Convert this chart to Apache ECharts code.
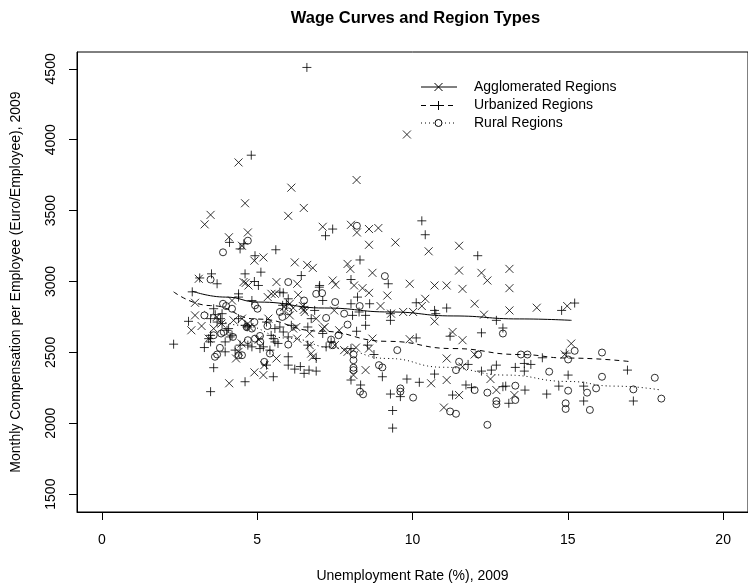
<!DOCTYPE html>
<html lang="en">
<head>
    <meta charset="UTF-8">
    <title>Wage Curves and Region Types</title>
    <script src="https://cdn.jsdelivr.net/npm/echarts@6/dist/echarts.min.js"></script>
</head>
<style>
    *{
        margin: 0;
        padding: 0;
    }
    html , body{
        width: 748px;
        height: 588px;
        background: #fff;
    }
    .container{
        width: 748px;
        height: 588px;
    }
</style>
<body>
<div class="container"></div>
<script>
    // unemployment rate (%), monthly compensation (euro)
    const agglomerated = [
        [4.4,3840],[6.1,3662],[8.2,3716],[4.61,3552],[6.5,3519],[3.5,3470],[3.31,3403],[6.0,3463],
        [7.11,3386],[8.02,3400],[8.21,3346],[8.6,3370],[8.9,3377],[8.6,3259],[9.45,3276],[4.09,3312],
        [4.7,3346],[4.51,3252],[5.2,3170],[9.82,4037],[10.52,3213],[11.5,3252],
        [4.91,3147],[6.21,3135],[6.61,3117],[6.79,3096],[7.91,3124],[8.0,3089],[3.12,3019],[4.56,2996],
        [4.72,2972],[5.62,2996],[6.29,2984],[7.43,3007],[7.52,2977],[8.12,2972],[8.71,3061],[8.39,2953],
        [8.6,2920],[9.19,2901],[3.0,2850],[4.19,2866],[5.34,2890],[5.57,2913],[6.32,2906],[5.87,2820],
        [6.16,2813],[6.53,2785],[7.48,2796],[8.97,2827],[3.0,2761],[2.88,2656],[3.21,2686],[3.6,2668],
        [3.7,2750],[4.24,2726],[4.51,2738],[4.75,2679],[5.36,2738],[6.05,2761],[6.26,2679],[6.9,2738],
        [7.17,2679],[6.69,2633],[7.64,2656],[7.5,2551],[7.91,2504],[8.18,2534],[8.1,2340],[8.49,2375],
        [8.71,2597],[8.6,2527],[3.44,2597],[4.1,2282],[4.91,2359],[5.2,2340],[4.32,2457],[4.5,2563],
        [5.05,2590],[5.23,2410],[5.62,2457],[6.29,2597],[6.74,2492],[6.69,2551],
        [4.4,2504],[4.63,2990],[4.7,2703],[6.05,2843],[6.47,2827],[6.5,2800],[6.16,2668],[7.11,2668],
        [7.8,2516],[6.79,2469],[3.85,2703],[5.46,2913],
        [11.5,3077],[12.22,3061],[12.41,3007],[13.12,3089],[13.12,2953],[9.91,2984],[10.71,2972],[11.1,2972],
        [11.61,2948],[10.41,2878],[10.3,2827],[10.71,2719],[12.0,2843],[12.3,2766],[13.12,2796],[14.0,2815],
        [14.98,2827],[9.7,2785],[10.02,2785],[9.31,2773],[11.29,2644],[11.61,2586],[9.91,2593],[11.1,2457],
        [11.61,2399],[12.0,2485],[12.51,2312],[14.9,2485],[15.11,2562],[13.28,2199],[12.7,2234],[11.5,2199],
        [11.01,2111],[10.6,2282],[11.1,2305]
    ];
    const urbanized = [
        [6.6,4510],[4.81,3891],[7.43,3370],[7.2,3323],[4.11,3276],[4.57,3266],[5.6,3224],[4.93,3182],
        [4.45,3230],[10.3,3428],[10.41,3330],[12.1,3182],
        [8.31,3152],[3.53,3054],[3.71,2984],[4.61,3054],[5.12,3066],[4.91,3000],[5.04,2972],[6.42,3042],
        [7.01,2972],[8.02,3014],[9.22,2984],[8.23,2890],[2.91,2927],[3.6,2808],[4.4,2890],[4.83,2866],
        [5.73,2925],[6.0,2878],[7.11,2866],[5.94,2843],[6.51,2820],[6.85,2796],[8.02,2843],[8.62,2843],
        [9.29,2773],[9.29,2726],[8.07,2761],[8.49,2761],[8.49,2691],[8.2,2649],[2.79,2719],[3.5,2738],
        [3.65,2766],[3.87,2773],[3.87,2703],[4.08,2668],[4.13,2609],[4.4,2738],[4.61,2691],[5.3,2714],
        [5.57,2668],[6.1,2691],[6.74,2738],[6.63,2679],[7.11,2633],[7.38,2574],[7.22,2539],[8.02,2527],
        [8.02,2305],[8.33,2270],[8.55,2551],[8.76,2485],[9.03,2328],[9.29,2206],[9.36,2090],[9.36,1966],
        [2.31,2558],[3.3,2534],[3.5,2620],[3.97,2574],[3.6,2392],[3.5,2223],[4.61,2293],[5.52,2328],
        [4.29,2516],[4.45,2551],[5.09,2527],[4.7,2551],[5.2,2539],[5.3,2410],[5.41,2516],[5.45,2620],
        [5.57,2574],[5.67,2563],[6.0,2609],[6.0,2469],[6.0,2410],[6.21,2382],[6.39,2400],[6.51,2352],
        [6.67,2375],[6.9,2368],[6.9,2457],[6.63,2551],
        [3.15,3025],[3.82,2738],[3.71,2714],[4.03,2656],[4.19,2621],[3.44,2597],[3.5,2574],[3.97,2504],
        [4.83,2539],[4.4,2913],[4.68,2680],[7.0,2960],[5.84,2920],[5.82,2832],[8.28,2785],[5.73,2679],
        [5.84,2644],[5.52,2597],
        [10.12,2850],[10.71,2796],[10.75,2773],[11.1,2813],[12.7,2726],[14.8,2796],[15.22,2848],[12.91,2672],
        [12.22,2638],[11.21,2614],[10.12,2602],[11.79,2415],[12.22,2368],[12.54,2375],[12.7,2410],[13.31,2394],
        [13.6,2422],[13.81,2415],[13.6,2368],[14.18,2462],[14.95,2495],[16.92,2375],[15.01,2340],[17.11,2157],
        [14.71,2262],[15.51,2262],[15.51,2157],[14.32,2206],[13.62,2234],[13.1,2141],[12.91,2258],[13.0,2262],
        [11.9,2251],[11.72,2270],[11.29,2199],[10.71,2347],[10.22,2289],[9.82,2312],[9.61,2188]
    ];
    const rural = [
        [4.7,3288],[3.9,3206],[8.21,3393],
        [3.5,3014],[6.0,2996],[9.11,3038],[3.9,2843],[4.0,2827],[4.19,2808],[5.01,2808],[6.51,2866],
        [6.9,2913],[7.09,2918],[7.51,2855],[7.8,2773],[8.3,2827],[7.91,2696],[3.3,2761],[3.84,2633],
        [3.92,2644],[4.22,2609],[4.66,2679],[4.83,2668],[4.91,2714],[5.33,2686],[5.73,2785],[5.81,2750],
        [6.0,2789],[7.22,2743],[7.62,2621],[7.38,2590],[7.43,2551],[8.1,2485],[8.1,2445],[8.1,2392],
        [8.1,2375],[8.31,2223],[8.41,2204],[8.92,2410],[9.03,2394],[9.51,2516],[3.6,2621],[3.8,2532],
        [3.64,2469],[3.71,2485],[4.4,2480],[4.51,2480],[4.7,2586],[4.93,2597],[5.09,2616],[5.1,2574],
        [5.23,2433],[5.41,2492],[6.0,2555],[4.93,2832],
        [12.91,2633],[11.5,2434],[11.4,2375],[12.11,2485],[13.49,2485],[13.7,2485],[15.01,2450],[15.22,2511],
        [16.1,2499],[14.4,2364],[16.1,2328],[17.8,2321],[17.11,2239],[18.01,2174],[15.01,2230],[14.93,2141],
        [14.93,2101],[15.62,2216],[15.91,2246],[15.71,2094],[13.31,2265],[13.31,2164],[12.7,2157],[12.7,2134],
        [12.41,2216],[12.41,1989],[12.0,2234],[11.21,2083],[11.4,2067],[9.61,2246],[9.61,2223],[10.02,2181]
    ];
    // fitted wage curves
    const fitAgglomerated = [[2.91,2932],[3.98,2890],[5.04,2855],[7.17,2813],[9.29,2785],[11.31,2757],[13.44,2736],[15.12,2726]];
    const fitUrbanized = [[2.31,2927],[3.5,2830],[5,2735],[7,2650],[9.2,2578],[11.3,2527],[13.44,2485],[15,2460],[17.05,2434]];
    const fitRural = [[3.3,2790],[4.5,2690],[6,2600],[7.5,2530],[9.2,2457],[11,2395],[13,2340],[15,2295],[16.5,2262],[18.01,2234]];

    const xTicks = [0, 5, 10, 15, 20];
    const yTicks = [1500, 2000, 2500, 3000, 3500, 4000, 4500];
    const names = ['Agglomerated Regions', 'Urbanized Regions', 'Rural Regions'];

    const font = '"Liberation Sans", Arial, Helvetica, sans-serif';
    const crossPath = 'path://M0,0L10,10M10,0L0,10';
    const plusPath = 'path://M5,0L5,10M0,5L10,5';

    let container = document.querySelector('.container');
    let mycharts = echarts.init(container);

    function pointSeries(name, data, symbol, size) {
        return {
            name: name,
            type: 'scatter',
            data: data,
            symbol: symbol,
            symbolSize: size,
            itemStyle: {color: 'rgba(0,0,0,0)', borderColor: '#000', borderWidth: 1},
            emphasis: {disabled: true},
            z: 3
        };
    }
    function fitSeries(name, data, dash) {
        return {
            name: name,
            type: 'line',
            data: data,
            symbol: 'none',
            smooth: true,
            smoothMonotone: 'x',
            lineStyle: {color: '#000', width: 1, type: dash},
            emphasis: {disabled: true},
            z: 4
        };
    }

    // legend drawn by hand, R style without a box
    const legendRows = [87, 105.5, 123];
    let legendItems = [];
    [['solid', 'x'], [[5, 4], '+'], [[1, 3], 'o']].forEach((row, i) => {
        let y = legendRows[i];
        legendItems.push({type: 'line', shape: {x1: 421, y1: y, x2: 457, y2: y},
            style: {stroke: '#000', lineWidth: 1, lineDash: row[0] === 'solid' ? null : row[0]}});
        let cx = 438.5;
        if (row[1] === 'x') {
            legendItems.push({type: 'line', shape: {x1: cx - 4, y1: y - 4, x2: cx + 4, y2: y + 4}, style: {stroke: '#000', lineWidth: 1}});
            legendItems.push({type: 'line', shape: {x1: cx - 4, y1: y + 4, x2: cx + 4, y2: y - 4}, style: {stroke: '#000', lineWidth: 1}});
        } else if (row[1] === '+') {
            legendItems.push({type: 'line', shape: {x1: cx - 4.5, y1: y, x2: cx + 4.5, y2: y}, style: {stroke: '#000', lineWidth: 1}});
            legendItems.push({type: 'line', shape: {x1: cx, y1: y - 4.5, x2: cx, y2: y + 4.5}, style: {stroke: '#000', lineWidth: 1}});
        } else {
            legendItems.push({type: 'circle', shape: {cx: cx, cy: y, r: 3.5}, style: {fill: '#fff', stroke: '#000', lineWidth: 1}});
        }
        legendItems.push({type: 'text', x: 474, y: y,
            style: {text: names[i], font: '14px ' + font, fill: '#000', verticalAlign: 'middle'}});
    });
    legendItems.push({type: 'text', x: 415.5, y: 18.5,
        style: {text: 'Wage Curves and Region Types', font: 'bold 16.5px ' + font, fill: '#000',
            align: 'center', verticalAlign: 'middle'}});

    let options = {
        animation: false,
        backgroundColor: '#fff',
        grid: {left: 77, top: 52, width: 677, height: 462, show: true, borderColor: '#000', borderWidth: 1},
        xAxis: {
            type: 'value',
            min: -0.8,
            max: 20.8,
            name: 'Unemployment Rate (%), 2009',
            nameLocation: 'middle',
            nameGap: 57,
            nameTextStyle: {fontFamily: font, fontSize: 14, color: '#000'},
            axisLine: {show: true, onZero: false, lineStyle: {color: '#000', width: 1}},
            axisTick: {show: true, length: 8, customValues: xTicks, lineStyle: {color: '#000', width: 1}},
            axisLabel: {customValues: xTicks, margin: 21, fontFamily: font, fontSize: 14, color: '#000',
                formatter: v => String(v)},
            splitLine: {show: false}
        },
        yAxis: {
            type: 'value',
            min: 1374,
            max: 4619,
            name: 'Monthly Compensation per Employee (Euro/Employee), 2009',
            nameLocation: 'middle',
            nameGap: 54,
            nameTextStyle: {fontFamily: font, fontSize: 14, color: '#000'},
            axisLine: {show: true, onZero: false, lineStyle: {color: '#000', width: 1}},
            axisTick: {show: true, length: 8, customValues: yTicks, lineStyle: {color: '#000', width: 1}},
            axisLabel: {customValues: yTicks, rotate: 90, margin: 19, fontFamily: font, fontSize: 14, color: '#000',
                formatter: v => String(v)},
            splitLine: {show: false}
        },
        graphic: legendItems,
        series: [
            pointSeries(names[0], agglomerated, crossPath, 8),
            pointSeries(names[1], urbanized, plusPath, 9),
            pointSeries(names[2], rural, 'circle', 7),
            fitSeries(names[0], fitAgglomerated, 'solid'),
            fitSeries(names[1], fitUrbanized, [5, 4]),
            fitSeries(names[2], fitRural, [1, 3])
        ]
    };

    mycharts.setOption(options);
</script>
</body>
</html>
